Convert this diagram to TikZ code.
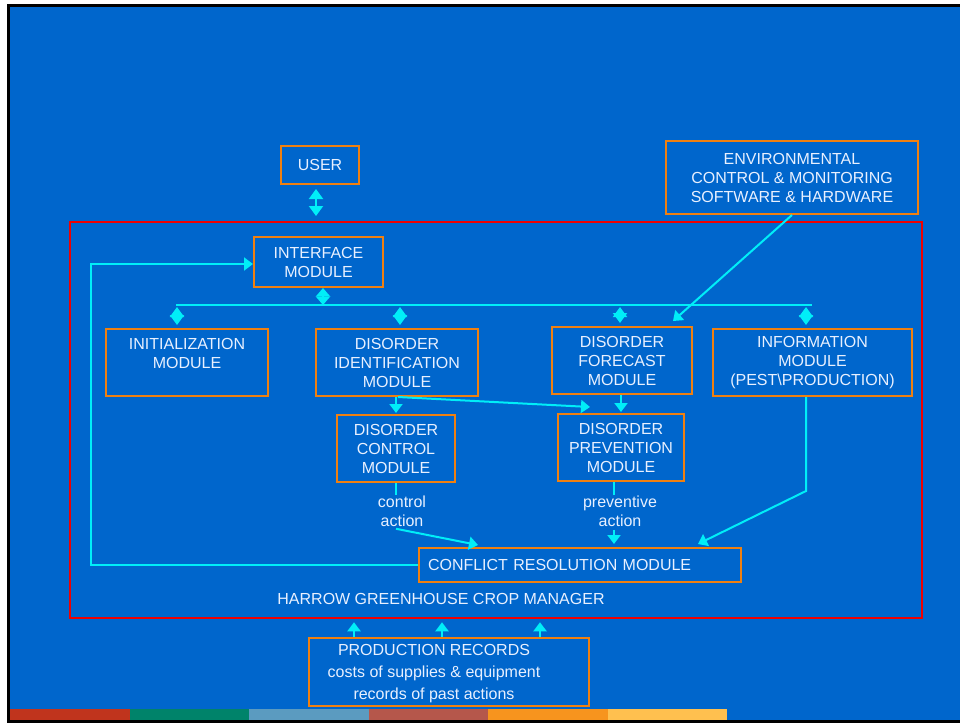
\documentclass[tikz,border=0pt]{standalone}
\usepackage{fontspec}
\setmainfont{Liberation Sans}
\usepackage{tikz}
\usetikzlibrary{arrows.meta}
\usetikzlibrary{calc, positioning}
\definecolor{slideblue}{RGB}{0,102,204}
\definecolor{boxorange}{RGB}{240,128,16}
\definecolor{mgrred}{RGB}{240,0,0}
\definecolor{linkcyan}{RGB}{0,238,248}
\definecolor{textwhite}{RGB}{232,240,255}
\definecolor{barone}{RGB}{192,52,29}
\definecolor{bartwo}{RGB}{0,131,106}
\definecolor{barthree}{RGB}{91,155,192}
\definecolor{barfour}{RGB}{181,87,75}
\definecolor{barfive}{RGB}{247,148,30}
\definecolor{barsix}{RGB}{255,192,79}
\tikzset{every picture/.style={line width=0.75pt}}

\begin{document}
\begin{tikzpicture}[x=1pt,y=-1pt,
  module/.style={draw=boxorange, line width=2pt, text=textwhite, align=center,
    inner sep=0pt, font=\fontsize{16}{19}\selectfont},
  note/.style={text=textwhite, align=center, inner sep=0pt,
    font=\fontsize{16}{19}\selectfont},
  link/.style={draw=linkcyan, line width=2pt},
  onehead/.style={-{Triangle[length=9pt,width=13pt]}},
  twohead/.style={{Triangle[length=10pt,width=14pt]}-{Triangle[length=10pt,width=14pt]}},
  diamondhead/.style={{Triangle[length=8.5pt,width=14pt]}-{Triangle[length=8.5pt,width=14pt]}}]
\useasboundingbox (0,0) rectangle (960,723);
% slide
\fill[white] (0,0) rectangle (960,723);
\draw[line width=3pt, fill=slideblue] (8.5,5.5) rectangle (966,721.5);
\foreach \col [count=\i] in {barone,bartwo,barthree,barfour,barfive,barsix}
  \fill[\col] ({10+119.5*(\i-1)},709) rectangle ({10+119.5*\i},720);

% crop manager frame
\node[draw=mgrred, line width=2.5pt, minimum width=852, minimum height=396, inner sep=0pt] (mgr) at (496,420) {};
\node[note] (title) at (441,599) {HARROW GREENHOUSE CROP MANAGER};

% modules
\node[module, minimum width=78, minimum height=38] (user) at (320,165) {USER};
\node[module, minimum width=129, minimum height=50] (interface) at (318.5,262) {INTERFACE\\MODULE};
\node[module, minimum width=252, minimum height=73] (env) at (792,177.5) {ENVIRONMENTAL\\CONTROL \& MONITORING\\SOFTWARE \& HARDWARE};
\node[module, minimum width=162, minimum height=67] (init) at (187,362.5) {INITIALIZATION\\MODULE\\~};
\node[module, minimum width=162, minimum height=67] (ident) at (397,362.5) {DISORDER\\IDENTIFICATION\\MODULE};
\node[module, minimum width=140, minimum height=67] (forecast) at (622,360.5) {DISORDER\\FORECAST\\MODULE};
\node[module, minimum width=199, minimum height=67] (info) at (812.5,362.5) {INFORMATION\\MODULE\\(PEST\textbackslash PRODUCTION)};
\node[module, minimum width=118, minimum height=67] (control) at (396,448.5) {DISORDER\\CONTROL\\MODULE};
\node[module, minimum width=126, minimum height=67] (prevent) at (621,447.5) {DISORDER\\PREVENTION\\MODULE};
\node[module, text width=304, inner xsep=9pt, minimum height=34, align=left] (conflict) at (580,565) {CONFLICT RESOLUTION MODULE};
\node[note] (ctrlact) at (402,511) {control\\action};
\node[note] (prevact) at (620,511) {preventive\\action};
\node[module, minimum width=280, minimum height=68] (records) at (449,672) {};
\node[note, font=\fontsize{16}{22}\selectfont] (recordstext) at (434,674) {PRODUCTION RECORDS\\costs of supplies \& equipment\\records of past actions};

% bus
\coordinate (busL) at (176,305);
\coordinate (busR) at (812,305);
\draw[link] (busL) -- (busR);
\draw[link, diamondhead] (interface.south -| 323,0) -- (busL -| 323,0);
\foreach \mod/\xpos in {init/177, ident/400, forecast/620, info/806}
  \draw[link, twohead, shorten <=2pt, shorten >=3pt] (busL -| \xpos,0) -- (\mod.north -| \xpos,0);

% connectors
\draw[link, twohead, shorten <=4pt, shorten >=20pt] (user.south -| 316,0) -- (interface.north -| 316,0);
\draw[link, onehead] (env.south) -- ([xshift=51pt, yshift=5pt]forecast.north);
\draw[link, onehead, shorten >=1pt] (ident.south -| control.north) -- (control.north);
\draw[link, onehead] ([xshift=1pt]ident.south) -- ([xshift=-31pt, yshift=6pt]prevent.north);
\draw[link, onehead, shorten >=1pt] (forecast.south -| prevent.north) -- (prevent.north);
\draw[link] (control.south) -- (control.south |- ctrlact.north);
\draw[link, onehead] ([yshift=-2pt]ctrlact.south -| control.south) -- ([xshift=-102pt, yshift=2pt]conflict.north);
\draw[link] ([xshift=-7pt]prevent.south) -- ([xshift=-7pt]prevent.south |- prevact.north);
\draw[link, onehead] ([yshift=-3pt]prevact.south -| 614,0) -- ([yshift=3pt]conflict.north -| 614,0);
\draw[link, onehead] (info.south -| 806,0) -- ++(0,94) -- ([xshift=118pt, yshift=3pt]conflict.north);
\draw[link, onehead] (conflict.west) -- (conflict.west -| 91,0) |- ([yshift=-2pt]interface.west);
\foreach \xpos in {354,442,540}
  \draw[link, onehead, shorten >=3pt] (records.north -| \xpos,0) -- (mgr.south -| \xpos,0);
\end{tikzpicture}
\end{document}
